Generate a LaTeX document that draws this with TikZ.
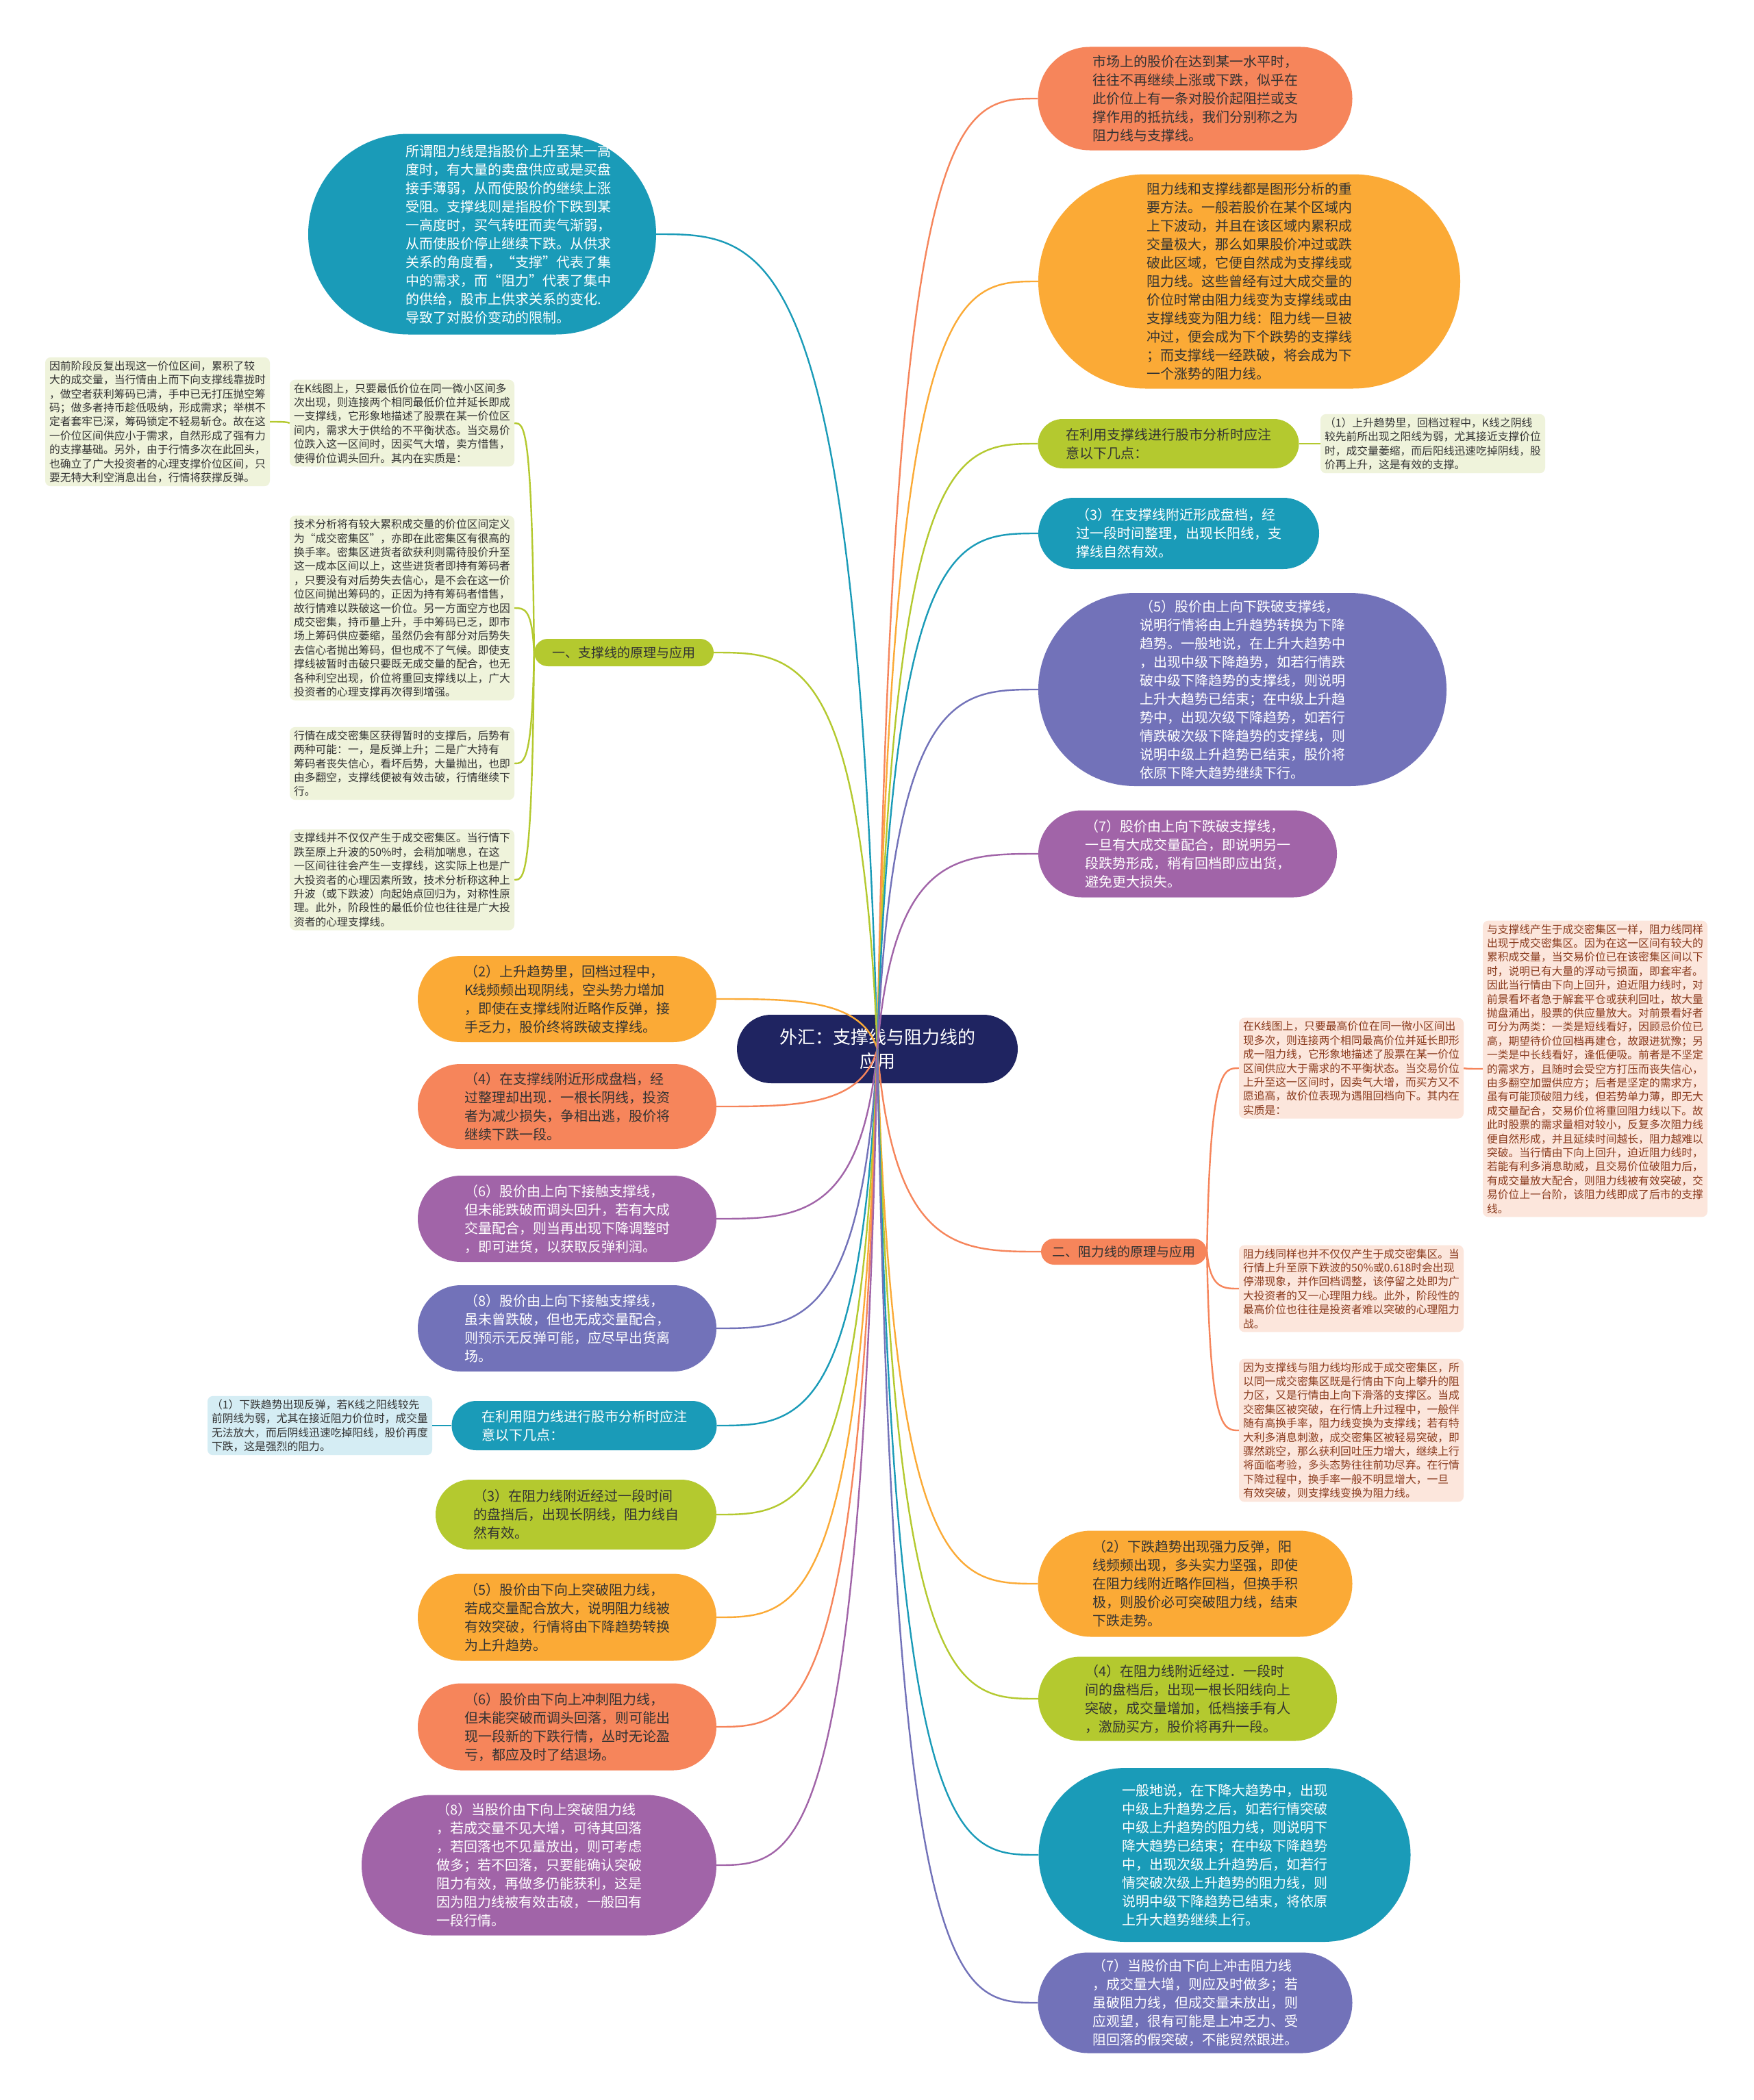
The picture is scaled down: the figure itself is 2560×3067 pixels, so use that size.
\documentclass[tikz,border=0pt]{standalone}
\usepackage{fontspec}
\setmainfont{Noto Sans CJK SC}
\usetikzlibrary{shapes.misc,calc}
\definecolor{cnavy}{HTML}{1F2461}
\definecolor{cteal}{HTML}{1A9BB8}
\definecolor{camber}{HTML}{FBAA36}
\definecolor{ccoral}{HTML}{F6855B}
\definecolor{cgreen}{HTML}{B4C92F}
\definecolor{cperi}{HTML}{7272B9}
\definecolor{cmag}{HTML}{A164A8}
\definecolor{cpaleg}{HTML}{EFF3DB}
\definecolor{cpink}{HTML}{FCE6DC}
\definecolor{cpaleb}{HTML}{D5EDF4}
\definecolor{cdark}{HTML}{333333}
\definecolor{cbrown}{HTML}{8A3B1E}
\tikzset{
  bub/.style={rounded rectangle, draw=none, inner sep=0pt},
  btxt/.style={align=left, inner sep=0pt, font=\fontsize{20}{27}\selectfont},
  stxt/.style={align=left, inner xsep=6pt, inner ysep=5pt, rounded corners=8pt, font=\fontsize{15.8}{20.4}\selectfont},
  branch/.style={rounded rectangle, inner xsep=4pt, inner ysep=0pt, font=\fontsize{19}{24}\selectfont, text=cdark},
  link/.style={line width=2.4pt},
}
% name, cx, cy, w, h, fill, textcolor, text
\newcommand\mybub[8]{%
  \node[bub,fill=#6,minimum width=#4pt,minimum height=#5pt] (#1) at (#2,#3) {};
  \node[btxt,text=#7] (#1t) at (#1.center) {#8};}
\newcommand\clink[3]{\draw[link,#1] let \p1=(#2), \p2=(#3) in (\p1) .. controls ({0.9*\x1+0.1*\x2},\y2) and ({0.5*\x1+0.5*\x2},\y2) .. (\p2);}
\begin{document}
\begin{tikzpicture}[x=1pt,y=-1pt]
\useasboundingbox (0,0) rectangle (2560,3067);
\fill[white] (0,0) rectangle (2560,3067);

% root
\node[rounded rectangle, fill=cnavy, minimum width=410pt, minimum height=100pt, inner sep=0pt, text=white, align=center, font=\fontsize{26}{35}\selectfont] (root) at (1281,1532) {外汇：支撑线与阻力线的\\应用};

% ---------- left side ----------
\node[bub,fill=cteal,minimum width=508pt,minimum height=293pt] (A) at (704,342) {};
\node[btxt,text=white] (At) at ([xshift=38pt]A.center) {所谓阻力线是指股价上升至某一高\\度时，有大量的卖盘供应或是买盘\\接手薄弱，从而使股价的继续上涨\\受阻。支撑线则是指股价下跌到某\\一高度时，买气转旺而卖气渐弱，\\从而使股价停止继续下跌。从供求\\关系的角度看，“支撑”代表了集\\中的需求，而“阻力”代表了集中\\的供给，股市上供求关系的变化.\\导致了对股价变动的限制。};

\node[stxt, fill=cpaleg, text=cdark] (B) at (230,616) {因前阶段反复出现这一价位区间，累积了较\\大的成交量，当行情由上而下向支撑线靠拢时\\，做空者获利筹码已清，手中已无打压抛空筹\\码；做多者持币趁低吸纳，形成需求；举棋不\\定者套牢已深，筹码锁定不轻易斩仓。故在这\\一价位区间供应小于需求，自然形成了强有力\\的支撑基础。另外，由于行情多次在此回头，\\也确立了广大投资者的心理支撑价位区间，只\\要无特大利空消息出台，行情将获撑反弹。};

\node[stxt, fill=cpaleg, text=cdark] (C) at (587,618) {在K线图上，只要最低价位在同一微小区间多\\次出现，则连接两个相同最低价位并延长即成\\一支撑线，它形象地描述了股票在某一价位区\\间内，需求大于供给的不平衡状态。当交易价\\位跌入这一区间时，因买气大增，卖方惜售，\\使得价位调头回升。其内在实质是：};

\node[stxt, fill=cpaleg, text=cdark] (D) at (587,888) {技术分析将有较大累积成交量的价位区间定义\\为“成交密集区”，亦即在此密集区有很高的\\换手率。密集区进货者欲获利则需待股价升至\\这一成本区间以上，这些进货者即持有筹码者\\，只要没有对后势失去信心，是不会在这一价\\位区间抛出筹码的，正因为持有筹码者惜售，\\故行情难以跌破这一价位。另一方面空方也因\\成交密集，持币量上升，手中筹码已乏，即市\\场上筹码供应萎缩，虽然仍会有部分对后势失\\去信心者抛出筹码，但也成不了气候。即使支\\撑线被暂时击破只要既无成交量的配合，也无\\各种利空出现，价位将重回支撑线以上，广大\\投资者的心理支撑再次得到增强。};

\node[stxt, fill=cpaleg, text=cdark] (E) at (587,1115) {行情在成交密集区获得暂时的支撑后，后势有\\两种可能：一，是反弹上升；二是广大持有\\筹码者丧失信心，看坏后势，大量抛出，也即\\由多翻空，支撑线便被有效击破，行情继续下\\行。};

\node[stxt, fill=cpaleg, text=cdark] (F) at (587,1285) {支撑线并不仅仅产生于成交密集区。当行情下\\跌至原上升波的50\%时，会稍加喘息，在这\\一区间往往会产生一支撑线，这实际上也是广\\大投资者的心理因素所致，技术分析称这种上\\升波（或下跌波）向起始点回归为，对称性原\\理。此外，阶段性的最低价位也往往是广大投\\资者的心理支撑线。};

\node[branch, fill=cgreen, minimum width=270pt, minimum height=40pt] (G) at (911,953) {一、支撑线的原理与应用};

\mybub{L2}{828}{1459}{436}{126}{camber}{cdark}{（2）上升趋势里，回档过程中，\\K线频频出现阴线，空头势力增加\\，即使在支撑线附近略作反弹，接\\手乏力，股价终将跌破支撑线。}
\mybub{L3}{828}{1616}{436}{124}{ccoral}{cdark}{（4）在支撑线附近形成盘档，经\\过整理却出现．一根长阴线，投资\\者为减少损失，争相出逃，股价将\\继续下跌一段。}
\mybub{L4}{828}{1780}{436}{126}{cmag}{white}{（6）股价由上向下接触支撑线，\\但未能跌破而调头回升，若有大成\\交量配合，则当再出现下降调整时\\，即可进货，以获取反弹利润。}
\mybub{L5}{828}{1940}{436}{126}{cperi}{white}{（8）股价由上向下接触支撑线，\\虽未曾跌破，但也无成交量配合，\\则预示无反弹可能，应尽早出货离\\场。}
\mybub{L6}{853}{2082}{387}{72}{cteal}{white}{在利用阻力线进行股市分析时应注\\意以下几点：}
\node[stxt, fill=cpaleb, text=cdark] (L6a) at (467,2082) {（1）下跌趋势出现反弹，若K线之阳线较先\\前阴线为弱，尤其在接近阻力价位时，成交量\\无法放大，而后阴线迅速吃掉阳线，股价再度\\下跌，这是强烈的阻力。};
\mybub{L7}{841}{2212}{410}{102}{cgreen}{cdark}{（3）在阻力线附近经过一段时间\\的盘挡后，出现长阴线，阻力线自\\然有效。}
\mybub{L8}{828}{2362}{436}{127}{camber}{cdark}{（5）股价由下向上突破阻力线，\\若成交量配合放大，说明阻力线被\\有效突破，行情将由下降趋势转换\\为上升趋势。}
\mybub{L9}{828}{2522}{436}{127}{ccoral}{cdark}{（6）股价由下向上冲刺阻力线，\\但未能突破而调头回落，则可能出\\现一段新的下跌行情，丛时无论盈\\亏，都应及时了结退场。}
\mybub{L10}{787}{2724}{518}{205}{cmag}{white}{（8）当股价由下向上突破阻力线\\，若成交量不见大增，可待其回落\\，若回落也不见量放出，则可考虑\\做多；若不回落，只要能确认突破\\阻力有效，再做多仍能获利，这是\\因为阻力线被有效击破，一般回有\\一段行情。}

% ---------- right side ----------
\mybub{R1}{1745}{144}{459}{151}{ccoral}{cdark}{市场上的股价在达到某一水平时，\\往往不再继续上涨或下跌，似乎在\\此价位上有一条对股价起阻拦或支\\撑作用的抵抗线，我们分别称之为\\阻力线与支撑线。}
\mybub{R2}{1824}{411}{616}{313}{camber}{cdark}{阻力线和支撑线都是图形分析的重\\要方法。一般若股价在某个区域内\\上下波动，并且在该区域内累积成\\交量极大，那么如果股价冲过或跌\\破此区域，它便自然成为支撑线或\\阻力线。这些曾经有过大成交量的\\价位时常由阻力线变为支撑线或由\\支撑线变为阻力线：阻力线一旦被\\冲过，便会成为下个跌势的支撑线\\；而支撑线一经跌破，将会成为下\\一个涨势的阻力线。}
\mybub{R3}{1706}{648}{381}{72}{cgreen}{cdark}{在利用支撑线进行股市分析时应注\\意以下几点：}
\node[stxt, fill=cpaleg, text=cdark] (R3a) at (2092,648) {（1）上升趋势里，回档过程中，K线之阴线\\较先前所出现之阳线为弱，尤其接近支撑价位\\时，成交量萎缩，而后阳线迅速吃掉阴线，股\\价再上升，这是有效的支撑。};
\mybub{R4}{1721}{779}{410}{104}{cteal}{white}{（3）在支撑线附近形成盘档，经\\过一段时间整理，出现长阳线，支\\撑线自然有效。}
\mybub{R5}{1814}{1007}{596}{282}{cperi}{white}{（5）股价由上向下跌破支撑线，\\说明行情将由上升趋势转换为下降\\趋势。一般地说，在上升大趋势中\\，出现中级下降趋势，如若行情跌\\破中级下降趋势的支撑线，则说明\\上升大趋势已结束；在中级上升趋\\势中，出现次级下降趋势，如若行\\情跌破次级下降趋势的支撑线，则\\说明中级上升趋势已结束，股价将\\依原下降大趋势继续下行。}
\mybub{R6}{1734}{1247}{436}{127}{cmag}{white}{（7）股价由上向下跌破支撑线，\\一旦有大成交量配合，即说明另一\\段跌势形成，稍有回档即应出货，\\避免更大损失。}

\node[branch, fill=ccoral, minimum width=250pt, minimum height=38pt] (R7) at (1641,1828) {二、阻力线的原理与应用};
\node[stxt, fill=cpink, text=cbrown] (R7a) at (1973,1560) {在K线图上，只要最高价位在同一微小区间出\\现多次，则连接两个相同最高价位并延长即形\\成一阻力线，它形象地描述了股票在某一价位\\区间供应大于需求的不平衡状态。当交易价位\\上升至这一区间时，因卖气大增，而买方又不\\愿追高，故价位表现为遇阻回档向下。其内在\\实质是：};
\node[stxt, fill=cpink, text=cbrown] (R7d) at (2329,1561) {与支撑线产生于成交密集区一样，阻力线同样\\出现于成交密集区。因为在这一区间有较大的\\累积成交量，当交易价位已在该密集区间以下\\时，说明已有大量的浮动亏损面，即套牢者。\\因此当行情由下向上回升，迫近阻力线时，对\\前景看坏者急于解套平仓或获利回吐，故大量\\抛盘涌出，股票的供应量放大。对前景看好者\\可分为两类：一类是短线看好，因顾忌价位已\\高，期望待价位回档再建仓，故跟进犹豫；另\\一类是中长线看好，逢低便吸。前者是不坚定\\的需求方，且随时会受空方打压而丧失信心，\\由多翻空加盟供应方；后者是坚定的需求方，\\虽有可能顶破阻力线，但若势单力薄，即无大\\成交量配合，交易价位将重回阻力线以下。故\\此时股票的需求量相对较小，反复多次阻力线\\便自然形成，并且延续时间越长，阻力越难以\\突破。当行情由下向上回升，迫近阻力线时，\\若能有利多消息助威，且交易价位破阻力后，\\有成交量放大配合，则阻力线被有效突破，交\\易价位上一台阶，该阻力线即成了后市的支撑\\线。};
\node[stxt, fill=cpink, text=cbrown] (R7b) at (1973,1882) {阻力线同样也并不仅仅产生于成交密集区。当\\行情上升至原下跌波的50\%或0.618时会出现\\停滞现象，并作回档调整，该停留之处即为广\\大投资者的又一心理阻力线。此外，阶段性的\\最高价位也往往是投资者难以突破的心理阻力\\战。};
\node[stxt, fill=cpink, text=cbrown] (R7c) at (1973,2089) {因为支撑线与阻力线均形成于成交密集区，所\\以同一成交密集区既是行情由下向上攀升的阻\\力区，又是行情由上向下滑落的支撑区。当成\\交密集区被突破，在行情上升过程中，一般伴\\随有高换手率，阻力线变换为支撑线；若有特\\大利多消息刺激，成交密集区被轻易突破，即\\骤然跳空，那么获利回吐压力增大，继续上行\\将面临考验，多头态势往往前功尽弃。在行情\\下降过程中，换手率一般不明显增大，一旦\\有效突破，则支撑线变换为阻力线。};

\mybub{R8}{1745}{2313}{459}{155}{camber}{cdark}{（2）下跌趋势出现强力反弹，阳\\线频频出现，多头实力坚强，即使\\在阻力线附近略作回档，但换手积\\极，则股价必可突破阻力线，结束\\下跌走势。}
\mybub{R9}{1734}{2481}{436}{123}{cgreen}{cdark}{（4）在阻力线附近经过．一段时\\间的盘档后，出现一根长阳线向上\\突破，成交量增加，低档接手有人\\，激励买方，股价将再升一段。}
\mybub{R10}{1788}{2709}{543}{254}{cteal}{white}{一般地说，在下降大趋势中，出现\\中级上升趋势之后，如若行情突破\\中级上升趋势的阻力线，则说明下\\降大趋势已结束；在中级下降趋势\\中，出现次级上升趋势后，如若行\\情突破次级上升趋势的阻力线，则\\说明中级下降趋势已结束，将依原\\上升大趋势继续上行。}
\mybub{R11}{1745}{2925}{459}{147}{cperi}{white}{（7）当股价由下向上冲击阻力线\\，成交量大增，则应及时做多；若\\虽破阻力线，但成交量未放出，则\\应观望，很有可能是上冲乏力、受\\阻回落的假突破，不能贸然跟进。}

% ---------- connectors ----------
\clink{cteal}{root.center}{A.east}
\clink{cgreen}{root.center}{G.east}
\clink{camber}{root.center}{L2.east}
\clink{ccoral}{root.center}{L3.east}
\clink{cmag}{root.center}{L4.east}
\clink{cperi}{root.center}{L5.east}
\clink{cteal}{root.center}{L6.east}
\clink{cgreen}{root.center}{L7.east}
\clink{camber}{root.center}{L8.east}
\clink{ccoral}{root.center}{L9.east}
\clink{cmag}{root.center}{L10.east}
\clink{ccoral}{root.center}{R1.west}
\clink{camber}{root.center}{R2.west}
\clink{cgreen}{root.center}{R3.west}
\clink{cteal}{root.center}{R4.west}
\clink{cperi}{root.center}{R5.west}
\clink{cmag}{root.center}{R6.west}
\clink{ccoral}{root.center}{R7.west}
\clink{camber}{root.center}{R8.west}
\clink{cgreen}{root.center}{R9.west}
\clink{cteal}{root.center}{R10.west}
\clink{cperi}{root.center}{R11.west}

\clink{cgreen}{G.west}{C.east}
\clink{cgreen}{G.west}{D.east}
\clink{cgreen}{G.west}{E.east}
\clink{cgreen}{G.west}{F.east}
\clink{cgreen}{C.west}{B.east}
\clink{cteal}{L6.west}{L6a.east}
\clink{cgreen}{R3.east}{R3a.west}
\clink{ccoral}{R7.east}{R7a.west}
\clink{ccoral}{R7.east}{R7b.west}
\clink{ccoral}{R7.east}{R7c.west}
\clink{ccoral}{R7a.east}{R7d.west}
\end{tikzpicture}
\end{document}
